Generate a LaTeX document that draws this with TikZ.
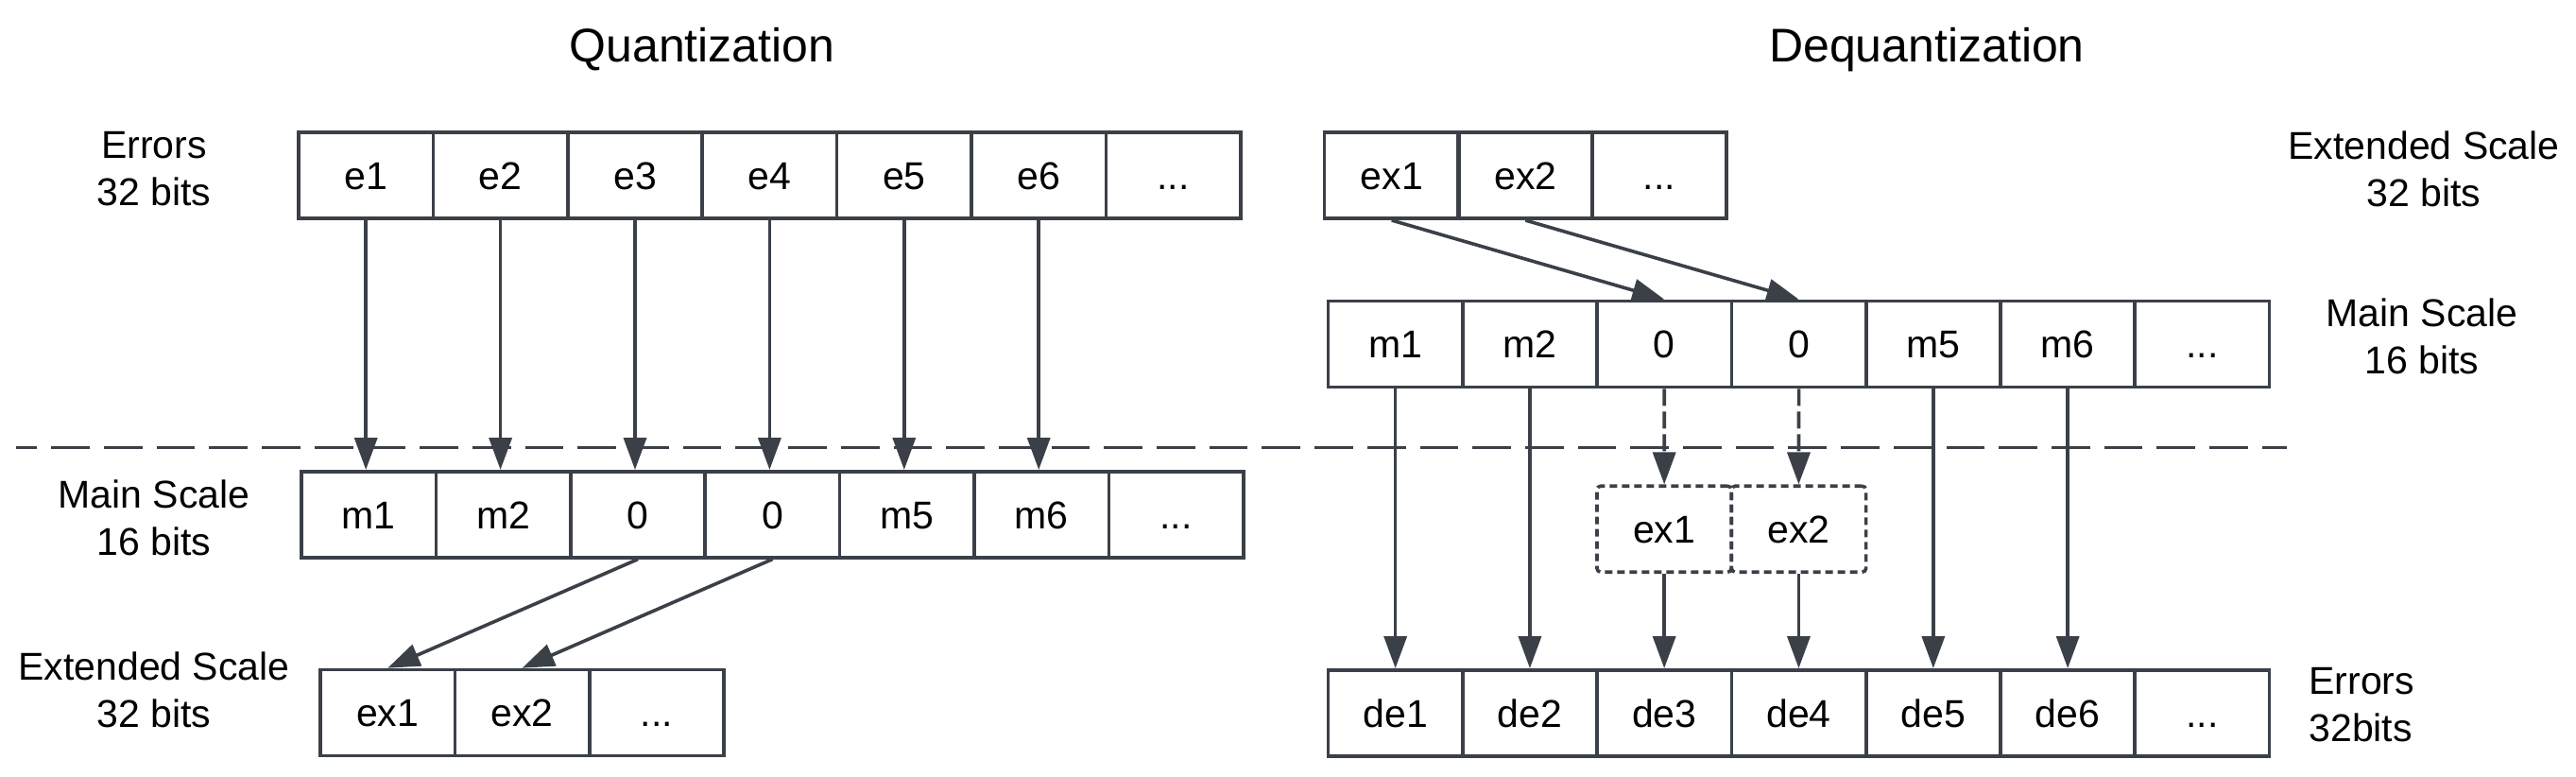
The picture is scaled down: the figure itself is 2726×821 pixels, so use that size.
\documentclass[tikz,border=0pt]{standalone}
\usepackage{fontspec}
\setmainfont{Liberation Sans}
\usetikzlibrary{arrows.meta}
\definecolor{ink}{RGB}{59,64,72}
\newcommand\tdots{...}
\begin{document}
\begin{tikzpicture}[x=0.5pt,y=-0.5pt,
  cell/.style={draw=ink, line width=1.8pt, minimum width=71.2pt, minimum height=45.5pt,
    inner sep=0pt, font=\fontsize{20.5}{25}\selectfont, text height=14.7pt, text depth=0pt},
  dcell/.style={cell, dash pattern=on 4pt off 2.5pt, rounded corners=2pt},
  lbl/.style={align=center, font=\fontsize{20.5}{25}\selectfont, inner sep=0pt},
  ttl/.style={font=\fontsize{25}{30}\selectfont, anchor=base, inner sep=0pt},
  arr/.style={draw=ink, line width=1.8pt, -{Triangle[length=17pt,width=12pt]}},
  sep/.style={draw=ink, line width=1.9pt, dash pattern=on 20.35pt off 7.5pt, dash phase=9.05pt}]
\useasboundingbox (0,0) rectangle (2726,821);

% titles
\node[ttl] (tq) at (743,65) {Quantization};
\node[ttl] (td) at (2039,65) {Dequantization};

% ---------- Quantization ----------
\foreach \t [count=\i] in {e1,e2,e3,e4,e5,e6,\tdots}
  \node[cell] (e\i) at ({316+(\i-0.5)*142.4},185.75) {\t};
\foreach \t [count=\i] in {m1,m2,0,0,m5,m6,\tdots}
  \node[cell] (m\i) at ({319+(\i-0.5)*142.4},544.3) {\t};
\foreach \t [count=\i] in {ex1,ex2,\tdots}
  \node[cell] (lx\i) at ({339+(\i-0.5)*142.4},754) {\t};

\node[lbl] (labErrL) at (163,179) {Errors\\32 bits};
\node[lbl] (labMainL) at (163,547.5) {Main Scale\\16 bits};
\node[lbl] (labExtL) at (163,730.3) {Extended Scale\\32 bits};

% ---------- Dequantization ----------
\foreach \t [count=\i] in {ex1,ex2,\tdots}
  \node[cell] (rx\i) at ({1402+(\i-0.5)*141.5},185.75) {\t};
\foreach \t [count=\i] in {m1,m2,0,0,m5,m6,\tdots}
  \node[cell] (n\i) at ({1405.5+(\i-0.5)*142.3},364) {\t};
\foreach \t [count=\i] in {ex1,ex2}
  \node[dcell] (dx\i) at ({1690+(\i-0.5)*142.3},559.7) {\t};
\foreach \t [count=\i] in {de1,de2,de3,de4,de5,de6,\tdots}
  \node[cell] (d\i) at ({1405.5+(\i-0.5)*142.3},754.3) {\t};

\node[lbl] (labExtR) at (2565,178.6) {Extended Scale\\32 bits};
\node[lbl] (labMainR) at (2563,356.2) {Main Scale\\16 bits};
\node[lbl, align=left, anchor=west] (labErrR) at (2443,745.8) {Errors\\32bits};

% separator
\coordinate (sepL) at (16.7,473.5);
\coordinate (sepR) at (2420,473.5);
\draw[sep] (sepL) -- (sepR);

% connectors (quantization)
\foreach \i in {1,...,6}
  \draw[arr] (e\i.south) -- (e\i.south |- m\i.north);
\draw[arr] (m3.south) -- (lx1.north);
\draw[arr] (m4.south) -- (lx2.north);

% connectors (dequantization)
\draw[arr] (rx1.south) -- (n3.north);
\draw[arr] (rx2.south) -- (n4.north);
\foreach \i in {1,2,5,6}
  \draw[arr] (n\i.south) -- (d\i.north);
\draw[arr, dash pattern=on 9pt off 3pt] (n3.south) -- (dx1.north);
\draw[arr, dash pattern=on 9pt off 3pt] (n4.south) -- (dx2.north);
\draw[arr] (dx1.south) -- (dx1.south |- d3.north);
\draw[arr] (dx2.south) -- (dx2.south |- d4.north);
\end{tikzpicture}
\end{document}
